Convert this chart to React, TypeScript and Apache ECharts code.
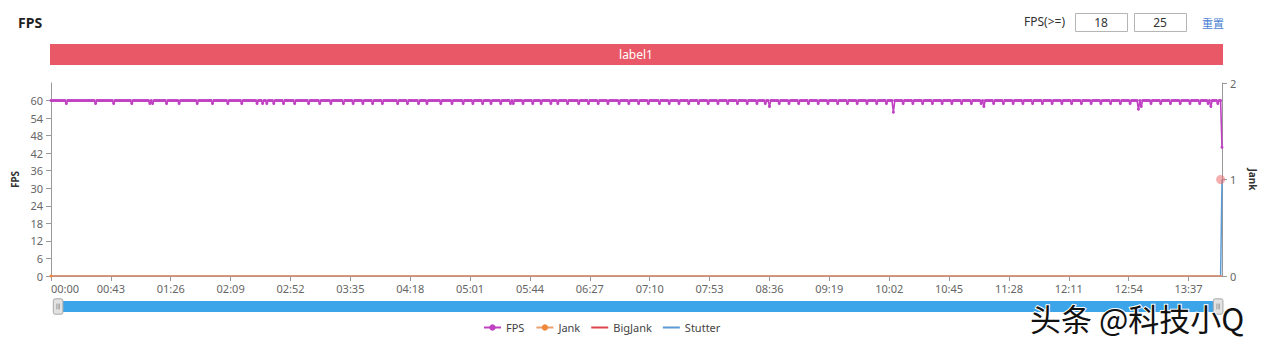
import React, { useEffect, useRef } from "react";
import * as echarts from "echarts";

// ---- data ----
const fpsValues: number[] = [
  60,60,60,60,60,60,60,60,60,60,60,59,60,60,60,60,60,60,60,60,
  60,60,60,60,60,60,60,60,60,60,60,60,59,60,60,60,60,60,60,60,
  60,60,60,60,60,59,60,60,60,60,60,60,60,60,60,60,60,60,59,60,
  60,60,60,60,60,60,60,60,60,60,60,59,60,59,60,60,60,60,60,60,
  60,60,60,59,60,60,60,60,60,60,60,60,59,60,60,60,60,60,60,60,
  60,60,60,60,60,59,60,60,60,60,60,60,60,60,60,60,59,60,60,60,
  60,60,60,60,60,60,60,59,60,60,60,60,60,60,60,60,60,59,60,60,
  60,60,60,60,60,60,60,60,59,60,60,60,59,60,60,59,60,60,60,60,
  59,60,60,60,60,60,60,59,60,60,60,60,60,60,60,59,60,60,60,60,
  60,60,60,60,60,59,60,60,60,60,60,60,60,59,60,60,60,60,60,60,
  60,59,60,60,60,60,60,60,60,60,59,60,60,60,60,60,60,59,60,60,
  60,60,60,60,59,60,60,60,60,60,60,59,60,60,60,60,60,60,59,60,
  60,60,60,60,60,60,60,60,60,59,60,60,60,60,60,60,59,60,60,60,
  60,60,60,60,59,60,60,60,60,60,59,60,60,60,60,60,60,60,60,60,
  59,60,60,60,60,60,60,60,59,60,60,60,60,60,60,60,59,60,60,60,
  60,60,60,59,60,60,60,60,60,60,59,60,60,60,60,60,59,60,60,60,
  60,60,60,59,60,60,60,60,60,60,59,60,59,60,60,60,60,60,60,59,
  60,60,60,60,60,60,59,60,60,60,60,60,59,60,60,60,60,60,60,59,
  60,60,60,60,59,60,60,60,60,60,60,59,60,60,60,60,60,60,60,59,
  60,60,60,60,60,60,59,60,60,60,60,60,60,59,60,60,60,60,60,60,
  59,60,60,60,60,60,60,60,59,60,60,60,60,60,60,59,60,60,60,60,
  60,60,59,60,60,60,60,60,60,59,60,60,60,60,60,60,60,59,60,60,
  60,60,60,60,59,60,60,60,60,60,60,59,60,60,60,60,60,60,59,60,
  60,60,60,60,60,59,60,60,60,60,60,60,59,60,60,60,60,60,60,59,
  60,60,60,60,60,60,59,60,60,60,60,60,60,59,60,60,60,60,60,60,
  59,60,60,60,60,60,60,59,60,60,60,60,60,59,60,60,58,60,60,60,
  60,60,60,59,60,60,60,60,60,60,59,60,60,60,60,60,60,59,60,60,
  60,60,60,60,59,60,60,60,60,60,60,59,60,60,60,60,60,60,59,60,
  60,60,60,60,60,59,60,60,60,60,60,60,59,60,60,60,60,60,60,59,
  60,60,60,60,60,60,59,60,60,60,60,60,60,59,60,60,60,60,60,60,
  59,60,60,60,60,56,60,60,60,60,60,60,59,60,60,60,60,60,60,59,
  60,60,60,60,60,60,59,60,60,60,60,60,60,59,60,60,60,60,60,60,
  59,60,60,60,60,60,60,59,60,60,60,60,60,60,59,60,60,60,60,60,
  60,59,60,60,60,60,60,60,59,60,58,60,60,60,60,60,60,59,60,60,
  60,60,60,60,59,60,60,60,60,60,60,59,60,60,60,60,60,60,59,60,
  60,60,60,60,60,59,60,60,60,60,60,60,59,60,60,60,60,60,60,59,
  60,60,60,60,60,60,59,60,60,60,60,60,60,59,60,60,60,60,60,60,
  59,60,60,60,60,60,60,59,60,60,60,60,60,60,59,60,60,60,60,60,
  60,59,60,60,60,60,60,60,59,60,60,60,60,60,60,59,60,60,60,60,
  60,57,60,58,60,60,60,60,60,60,59,60,60,60,60,60,60,59,60,60,
  60,60,60,60,59,60,60,60,60,60,60,59,60,60,60,60,60,60,59,60,
  60,60,60,60,60,59,60,60,60,60,60,59,60,58,60,60,60,60,59,60,
  60,44,
];

// [categoryIndex, value]
const jankPoints: number[][] = [[0, 0], [841, 0]];
const bigJankPoints: number[][] = [[0, 0], [841, 0]];
const stutterPoints: number[][] = [[0, 0], [840, 0], [841, 1]];

const fpsTicks = [0, 6, 12, 18, 24, 30, 36, 42, 48, 54, 60];
const jankTicks = [0, 1, 2];

// one category per second, mm:ss
const timeCategories: string[] = fpsValues.map((_, i) => {
  const m = Math.floor(i / 60);
  const s = i % 60;
  return String(m).padStart(2, "0") + ":" + String(s).padStart(2, "0");
});

const seriesNames = ["FPS", "Jank", "BigJank", "Stutter"];
const seriesColors = ["#c042c3", "#f0883c", "#e0444c", "#5b9bd5"];
const thresholdLow = "18";
const thresholdHigh = "25";
const bandLabel = "label1";

const FONT = "'Noto Sans', 'Open Sans', 'Noto Sans CJK SC', sans-serif";
const LINE_ICON = "path://M0,0L0.01,0L0.01,0.01Z M0,3H18V5H0Z M0,8L0.01,8L0.01,8.01Z";

export default function App() {
  const ref = useRef<HTMLDivElement>(null);

  useEffect(() => {
    if (!ref.current) return;
    const chart = echarts.init(ref.current, null, { renderer: "svg" });
    const stutterLast = stutterPoints[stutterPoints.length - 1];

    chart.setOption({
      animation: false,
      textStyle: { fontFamily: FONT },
      title: {
        text: "FPS",
        left: 18,
        top: 15,
        padding: 0,
        textStyle: { fontSize: 14, fontWeight: "bold", color: "#1f1f1f", fontFamily: FONT },
      },
      graphic: [
        {
          type: "text",
          left: 1024,
          top: 15,
          style: { text: "FPS(>=)", fontSize: 12, fill: "#333", fontFamily: FONT },
        },
        {
          type: "rect",
          shape: { x: 1075.5, y: 13.5, width: 52, height: 18 },
          style: { fill: "#fff", stroke: "#b5b5b5", lineWidth: 1 },
        },
        {
          type: "text",
          x: 1101,
          y: 22.5,
          style: { text: thresholdLow, fontSize: 12, fill: "#333", align: "center", verticalAlign: "middle", fontFamily: FONT },
        },
        {
          type: "rect",
          shape: { x: 1134.5, y: 13.5, width: 52, height: 18 },
          style: { fill: "#fff", stroke: "#b5b5b5", lineWidth: 1 },
        },
        {
          type: "text",
          x: 1160,
          y: 22.5,
          style: { text: thresholdHigh, fontSize: 12, fill: "#333", align: "center", verticalAlign: "middle", fontFamily: FONT },
        },
        {
          type: "text",
          x: 1202,
          y: 22.5,
          style: { text: "重置", fontSize: 11, fill: "#4a7fd4", verticalAlign: "middle", fontFamily: "'Noto Sans CJK SC', sans-serif" },
        },
        {
          type: "rect",
          shape: { x: 50, y: 44, width: 1173, height: 21 },
          style: { fill: "#e85866" },
        },
        {
          type: "text",
          x: 636,
          y: 54.5,
          style: { text: bandLabel, fontSize: 12, fill: "#fff", align: "center", verticalAlign: "middle", fontFamily: FONT },
        },
        {
          type: "text",
          x: 1030,
          y: 317,
          z: 100,
          style: {
            text: "头条 @科技小Q",
            fontSize: 31,
            lineHeight: 30,
            fill: "#111",
            stroke: "#fff",
            lineWidth: 2,
            verticalAlign: "middle",
            fontFamily: "'Noto Sans CJK SC', sans-serif",
          },
        },
      ],
      legend: {
        data: [
          { name: seriesNames[0] },
          { name: seriesNames[1] },
          { name: seriesNames[2], icon: LINE_ICON, itemStyle: { color: seriesColors[2], borderWidth: 0 } },
          { name: seriesNames[3], icon: LINE_ICON, itemStyle: { color: seriesColors[3], borderWidth: 0 } },
        ],
        left: 478,
        top: 317,
        itemWidth: 17,
        itemHeight: 8,
        itemGap: 11,
        textStyle: { fontSize: 11, color: "#444", fontFamily: FONT },
      },
      grid: { left: 51, right: 45, top: 83, bottom: 63 },
      xAxis: {
        type: "category",
        data: timeCategories,
        boundaryGap: false,
        axisLine: { lineStyle: { color: "#999" } },
        axisTick: { interval: 42, lineStyle: { color: "#999" } },
        axisLabel: {
          interval: 42,
          color: "#666",
          fontSize: 11,
          margin: 7,
          alignMinLabel: "left",
          fontFamily: FONT,
        },
        splitLine: { show: false },
      },
      yAxis: [
        {
          type: "value",
          name: "FPS",
          nameLocation: "middle",
          nameRotate: 90,
          nameGap: 27,
          nameTextStyle: { fontSize: 10, fontWeight: "bold", color: "#333", fontFamily: FONT },
          min: 0,
          max: 66,
          interval: 6,
          axisLine: { show: true, lineStyle: { color: "#999" } },
          axisTick: { show: true, customValues: fpsTicks, lineStyle: { color: "#999" } },
          axisLabel: { color: "#666", fontSize: 11, customValues: fpsTicks, fontFamily: FONT },
          splitLine: { show: false },
        },
        {
          type: "value",
          name: "Jank",
          nameLocation: "middle",
          nameRotate: -90,
          nameGap: 26,
          nameTextStyle: { fontSize: 10, fontWeight: "bold", color: "#333", fontFamily: FONT },
          min: 0,
          max: 2,
          interval: 1,
          position: "right",
          axisLine: { show: true, lineStyle: { color: "#999" } },
          axisTick: { show: true, customValues: jankTicks, lineStyle: { color: "#999" } },
          axisLabel: { color: "#666", fontSize: 11, customValues: jankTicks, fontFamily: FONT },
          splitLine: { show: false },
        },
      ],
      dataZoom: [
        {
          type: "slider",
          xAxisIndex: 0,
          start: 0,
          end: 100,
          left: 56,
          right: 49,
          top: 301,
          height: 11,
          showDetail: false,
          showDataShadow: false,
          brushSelect: false,
          moveHandleSize: 0,
          borderColor: "transparent",
          backgroundColor: "#e8e8e8",
          fillerColor: "#3ca5e9",
          dataBackground: { lineStyle: { opacity: 0 }, areaStyle: { opacity: 0 } },
          selectedDataBackground: { lineStyle: { opacity: 0 }, areaStyle: { opacity: 0 } },
          handleIcon:
            "path://M2,0H8A2,2,0,0,1,10,2V14A2,2,0,0,1,8,16H2A2,2,0,0,1,0,14V2A2,2,0,0,1,2,0ZM3.6,5V11M5,5V11M6.4,5V11",
          handleSize: "140%",
          handleStyle: { color: "#e2e2e2", borderColor: "#a8a8a8", borderWidth: 1 },
          emphasis: { handleStyle: { color: "#e2e2e2", borderColor: "#a8a8a8" } },
        },
      ],
      series: [
        {
          name: seriesNames[0],
          type: "line",
          yAxisIndex: 0,
          data: fpsValues,
          showAllSymbol: true,
          symbol: "circle",
          symbolSize: 3,
          color: seriesColors[0],
          lineStyle: { width: 1.6, color: seriesColors[0] },
          itemStyle: { color: seriesColors[0] },
          z: 5,
        },
        {
          name: seriesNames[1],
          type: "line",
          yAxisIndex: 1,
          data: jankPoints,
          symbol: "circle",
          symbolSize: 3,
          color: seriesColors[1],
          lineStyle: { width: 1.6, color: "#e9a070" },
          itemStyle: { color: seriesColors[1] },
          z: 3,
        },
        {
          name: seriesNames[2],
          type: "line",
          yAxisIndex: 1,
          data: bigJankPoints,
          symbol: "none",
          color: seriesColors[2],
          lineStyle: { width: 1, color: seriesColors[2] },
          itemStyle: { color: seriesColors[2] },
          z: 2,
        },
        {
          name: seriesNames[3],
          type: "line",
          yAxisIndex: 1,
          data: stutterPoints,
          symbol: "none",
          color: seriesColors[3],
          lineStyle: { width: 1.5, color: seriesColors[3] },
          itemStyle: { color: seriesColors[3] },
          z: 1,
          markPoint: {
            symbol: "circle",
            symbolSize: 9,
            label: { show: false },
            itemStyle: { color: "rgba(238,110,110,0.55)" },
            data: [{ coord: [stutterLast[0] - 1, stutterLast[1]] }],
          },
        },
      ],
    });

    return () => chart.dispose();
  }, []);

  return (
    <div
      ref={ref}
      style={{ position: "fixed", left: 0, top: 0, width: 1267, height: 339, background: "#fff" }}
    />
  );
}
